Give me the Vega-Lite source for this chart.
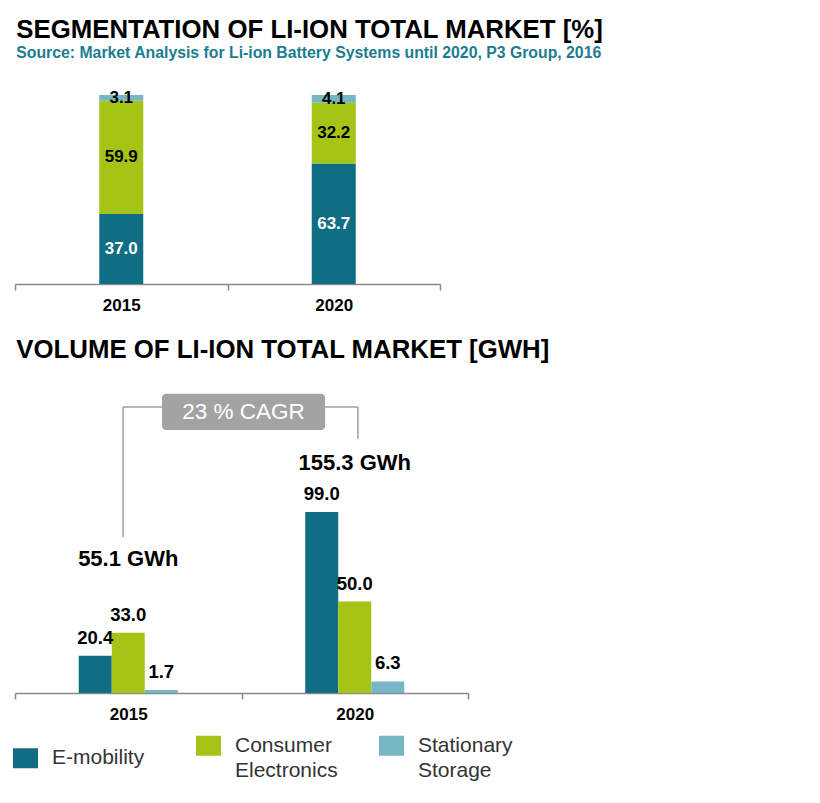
{
  "$schema": "https://vega.github.io/schema/vega-lite/v6.json",
  "background": "white",
  "padding": {"left": 14, "top": 17, "right": 5, "bottom": 5},
  "datasets": {
    "share": [
      {"year": "2015", "segment": "E-mobility", "idx": 1, "share": 37.0},
      {"year": "2015", "segment": "Consumer Electronics", "idx": 2, "share": 59.9},
      {"year": "2015", "segment": "Stationary Storage", "idx": 3, "share": 3.1},
      {"year": "2020", "segment": "E-mobility", "idx": 1, "share": 63.7},
      {"year": "2020", "segment": "Consumer Electronics", "idx": 2, "share": 32.2},
      {"year": "2020", "segment": "Stationary Storage", "idx": 3, "share": 4.1}
    ],
    "volume": [
      {"year": "2015", "segment": "E-mobility", "gwh": 20.4},
      {"year": "2015", "segment": "Consumer Electronics", "gwh": 33.0},
      {"year": "2015", "segment": "Stationary Storage", "gwh": 1.7},
      {"year": "2020", "segment": "E-mobility", "gwh": 99.0},
      {"year": "2020", "segment": "Consumer Electronics", "gwh": 50.0},
      {"year": "2020", "segment": "Stationary Storage", "gwh": 6.3}
    ]
  },
  "config": {
    "font": "Liberation Sans",
    "view": {"stroke": null},
    "style": {"guide-label": {"lineHeight": 25}},
    "title": {"anchor": "start", "font": "Liberation Sans", "fontSize": 25.8, "fontWeight": "bold", "color": "#000000", "dx": 3},
    "axisX": {
      "domainColor": "#8a8a8a", "domainWidth": 1.5, "tickColor": "#8a8a8a", "tickWidth": 1.5, "tickSize": 6,
      "tickBand": "extent", "labelAngle": 0, "labelFont": "Liberation Sans", "labelFontSize": 17, "labelFontWeight": "bold",
      "labelColor": "#000000", "labelPadding": 7, "title": null
    },
    "legend": {
      "orient": "bottom", "direction": "horizontal", "title": null, "gridAlign": "all", "columnPadding": 41,
      "symbolType": "M-2,-1.6H2V1.6H-2Z", "symbolSize": 156, "symbolStrokeWidth": 0, "symbolOpacity": 1,
      "labelFont": "Liberation Sans", "labelFontSize": 21, "labelColor": "#333333", "labelOffset": 16, "labelLimit": 200,
      "offset": 13
    }
  },
  "spacing": 24,
  "vconcat": [
    {
      "width": 425,
      "height": 189,
      "title": {
        "text": "SEGMENTATION OF LI-ION TOTAL MARKET [%]",
        "subtitle": "Source: Market Analysis for Li-ion Battery Systems until 2020, P3 Group, 2016",
        "subtitleFont": "Liberation Sans", "subtitleFontSize": 15.8, "subtitleFontWeight": "bold", "subtitleColor": "#1a7d90",
        "subtitlePadding": 2, "offset": 27, "dx": 2
      },
      "data": {"name": "share"},
      "encoding": {
        "x": {"field": "year", "type": "nominal", "scale": {"paddingInner": 0, "paddingOuter": 0}, "axis": {}},
        "y": {"field": "share", "type": "quantitative", "stack": "zero", "scale": {"domain": [0, 100], "nice": false}, "axis": null},
        "order": {"field": "idx", "type": "quantitative"}
      },
      "layer": [
        {
          "mark": {"type": "bar", "size": 44},
          "encoding": {
            "color": {
              "field": "segment", "type": "nominal",
              "scale": {"domain": ["E-mobility", "Consumer Electronics", "Stationary Storage"], "range": ["#0f6e84", "#a5c415", "#76b6c5"]},
              "legend": {"labelExpr": "datum.label == 'Consumer Electronics' ? ['Consumer', 'Electronics'] : datum.label == 'Stationary Storage' ? ['Stationary', 'Storage'] : datum.label"}
            }
          }
        },
        {
          "mark": {"type": "text", "fontSize": 17, "fontWeight": "bold", "baseline": "middle"},
          "encoding": {
            "y": {"field": "share", "type": "quantitative", "stack": "zero", "bandPosition": 0.5},
            "text": {"field": "share", "type": "quantitative", "format": ".1f"},
            "color": {
              "condition": {"test": "datum.segment == 'E-mobility'", "value": "#ffffff"},
              "value": "#000000"
            }
          }
        }
      ]
    },
    {
      "width": 453,
      "height": 311,
      "title": {"text": "VOLUME OF LI-ION TOTAL MARKET [GWH]", "offset": 18, "dx": 2},
      "resolve": {"scale": {"x": "independent"}, "axis": {"x": "independent"}},
      "layer": [
        {
          "data": {"name": "volume"},
          "layer": [
            {
              "mark": {"type": "bar"},
              "encoding": {
                "x": {"field": "year", "type": "nominal", "scale": {"paddingInner": 0, "paddingOuter": 0}},
                "xOffset": {"field": "segment", "type": "nominal", "scale": {"domain": ["_a", "E-mobility", "Consumer Electronics", "Stationary Storage", "_b"], "paddingInner": 0, "paddingOuter": 0.93}},
                "y": {"field": "gwh", "type": "quantitative", "scale": {"domain": [0, 170], "nice": false}, "axis": null},
                "color": {"field": "segment", "type": "nominal"}
              }
            },
            {
              "mark": {"type": "text", "fontSize": 18.5, "fontWeight": "bold", "baseline": "alphabetic", "dy": -12, "color": "#000000"},
              "encoding": {
                "x": {"field": "year", "type": "nominal"},
                "xOffset": {"field": "segment", "type": "nominal"},
                "y": {"field": "gwh", "type": "quantitative"},
                "text": {"field": "gwh", "type": "quantitative", "format": ".1f"}
              }
            },
            {
              "data": {"values": [{}]},
              "mark": {"type": "text", "fontSize": 22, "fontWeight": "bold", "baseline": "middle", "color": "#000000", "text": "55.1 GWh"},
              "encoding": {
                "x": {"datum": "2015", "type": "nominal"},
                "y": {"datum": 73.2, "type": "quantitative"}
              }
            },
            {
              "data": {"values": [{}]},
              "mark": {"type": "text", "fontSize": 22, "fontWeight": "bold", "baseline": "middle", "color": "#000000", "text": "155.3 GWh"},
              "encoding": {
                "x": {"datum": "2020", "type": "nominal"},
                "y": {"datum": 125.7, "type": "quantitative"}
              }
            }
          ]
        },
        {
          "data": {"values": [{}]},
          "layer": [
            {
              "mark": {"type": "rule", "color": "#a0a0a0", "strokeWidth": 1.5},
              "encoding": {
                "x": {"datum": 0.477, "type": "quantitative", "scale": {"domain": [0, 2], "nice": false}, "axis": null},
                "y": {"datum": 85.2, "type": "quantitative"},
                "y2": {"datum": 156.3}
              }
            },
            {
              "mark": {"type": "rule", "color": "#a0a0a0", "strokeWidth": 1.5},
              "encoding": {
                "x": {"datum": 0.477, "type": "quantitative"},
                "x2": {"datum": 0.66},
                "y": {"datum": 156.3, "type": "quantitative"}
              }
            },
            {
              "mark": {"type": "rule", "color": "#a0a0a0", "strokeWidth": 1.5},
              "encoding": {
                "x": {"datum": 1.36, "type": "quantitative"},
                "x2": {"datum": 1.514},
                "y": {"datum": 156.3, "type": "quantitative"}
              }
            },
            {
              "mark": {"type": "rule", "color": "#a0a0a0", "strokeWidth": 1.5},
              "encoding": {
                "x": {"datum": 1.514, "type": "quantitative"},
                "y": {"datum": 138.8, "type": "quantitative"},
                "y2": {"datum": 156.3}
              }
            },
            {
              "mark": {"type": "rect", "color": "#a3a3a3", "cornerRadius": 4},
              "encoding": {
                "x": {"datum": 0.649, "type": "quantitative"},
                "x2": {"datum": 1.369},
                "y": {"datum": 143.7, "type": "quantitative"},
                "y2": {"datum": 163.6}
              }
            },
            {
              "mark": {"type": "text", "fontSize": 22.5, "color": "#ffffff", "baseline": "middle", "text": "23 % CAGR"},
              "encoding": {
                "x": {"datum": 1.009, "type": "quantitative"},
                "y": {"datum": 153.5, "type": "quantitative"}
              }
            }
          ]
        }
      ]
    }
  ]
}
